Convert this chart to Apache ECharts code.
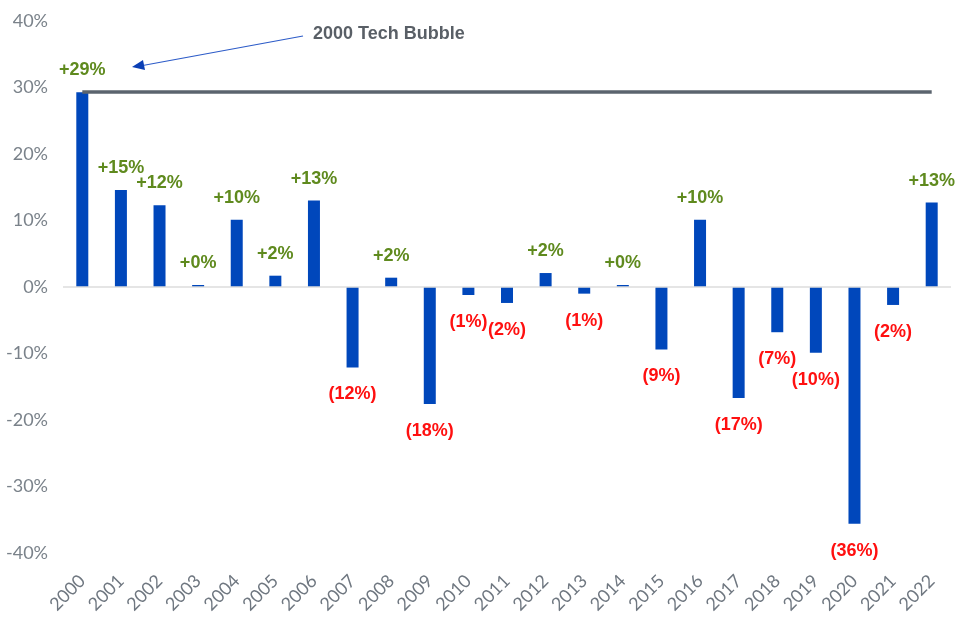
<!DOCTYPE html>
<html>
<head>
<meta charset="utf-8">
<script src="https://cdn.jsdelivr.net/npm/echarts@6/dist/echarts.min.js"></script>
<style>
  html, body { margin: 0; padding: 0; background: #fff; }
  #chart { width: 956px; height: 623px; }
</style>
</head>
<body>
<div id="chart"></div>
<script>
// 年份
var years = ['2000', '2001', '2002', '2003', '2004', '2005', '2006', '2007', '2008', '2009', '2010', '2011',
  '2012', '2013', '2014', '2015', '2016', '2017', '2018', '2019', '2020', '2021', '2022'];
// 年度回报 (%)
var returns = [29.3, 14.6, 12.3, 0.3, 10.1, 1.7, 13.0, -12.1, 1.4, -17.6, -1.2, -2.4,
  2.1, -1.0, 0.3, -9.4, 10.1, -16.7, -6.8, -9.9, -35.6, -2.7, 12.7];
// 柱子上的标签
var barLabels = ['+29%', '+15%', '+12%', '+0%', '+10%', '+2%', '+13%', '(12%)', '+2%', '(18%)', '(1%)', '(2%)',
  '+2%', '(1%)', '+0%', '(9%)', '+10%', '(17%)', '(7%)', '(10%)', '(36%)', '(2%)', '+13%'];
var yTicks = [-40, -30, -20, -10, 0, 10, 20, 30, 40];
var bubbleLevel = 29.3;
var noteText = '2000 Tech Bubble';

var chart = echarts.init(document.getElementById('chart'));

var seriesData = returns.map(function(v, i) {
  return {
    value: v,
    label: {
      show: true,
      position: v >= 0 ? 'top' : 'bottom',
      distance: v >= 0 ? 13 : 18,
      formatter: barLabels[i],
      color: v >= 0 ? '#5f8a1e' : '#ff1010',
      fontWeight: 'bold',
      fontSize: 18,
      fontFamily: 'Liberation Sans'
    }
  };
});

var option = {
  animation: false,
  grid: { left: 63, right: 5, top: 21, bottom: 70 },
  xAxis: {
    type: 'category',
    data: years,
    axisLine: { show: false },
    axisTick: { show: false },
    axisLabel: {
      rotate: 45,
      interval: 0,
      color: '#6f7780',
      fontSize: 18,
      fontFamily: 'Lato',
      margin: 25
    }
  },
  yAxis: {
    type: 'value',
    min: yTicks[0],
    max: yTicks[yTicks.length - 1],
    interval: 10,
    axisLine: { show: false },
    axisTick: { show: false },
    splitLine: { show: false },
    axisLabel: {
      color: '#7a828a',
      fontSize: 18,
      fontFamily: 'Lato',
      margin: 15,
      formatter: '{value}%'
    }
  },
  series: [{
    type: 'bar',
    data: seriesData,
    barWidth: 12,
    itemStyle: { color: '#0047bb' },
    markLine: {
      silent: true,
      symbol: 'none',
      label: { show: false },
      data: [
        [{ coord: [0, 0], x: 63, lineStyle: { color: '#dcdcdc', width: 1.5, type: 'solid' } }, { coord: [22, 0], x: 951 }],
        [{ coord: [0, bubbleLevel], lineStyle: { color: '#5b646e', width: 3.5, type: 'solid' } }, { coord: [22, bubbleLevel] }]
      ]
    }
  }],
  graphic: [{
    type: 'text',
    left: 313,
    top: 25,
    style: {
      text: noteText,
      fill: '#595f66',
      font: 'bold 18px "Liberation Sans"'
    }
  }, {
    type: 'line',
    shape: { x1: 303, y1: 36, x2: 140, y2: 66 },
    style: { stroke: '#2c5bc8', lineWidth: 1.2 }
  }, {
    type: 'polygon',
    shape: { points: [[132, 67], [143, 60], [145, 70]] },
    style: { fill: '#0a3fb5' }
  }]
};
chart.setOption(option);
</script>
</body>
</html>
